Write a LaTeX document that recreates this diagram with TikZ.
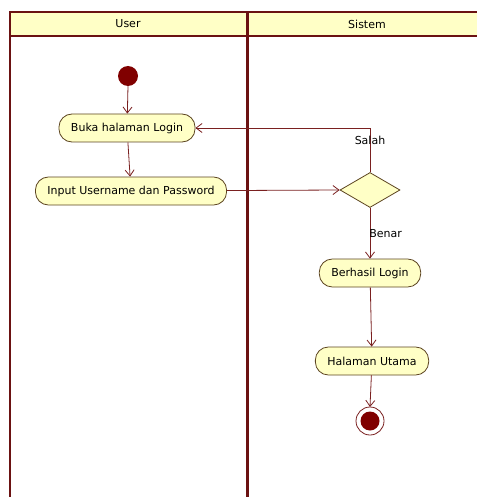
\documentclass[tikz,border=0pt]{standalone}
\usepackage{fontspec}
\setmainfont{DejaVu Sans}
\usetikzlibrary{arrows.meta,shapes.geometric}
\definecolor{lane}{HTML}{6B1212}
\definecolor{flow}{HTML}{7A2020}
\definecolor{pale}{HTML}{FFFFC6}
\definecolor{rim}{HTML}{5C4420}
\definecolor{dot}{HTML}{800000}
\tikzset{
    act/.style={
        draw=rim, fill=pale, rounded corners=13pt, line width=0.8pt,
        minimum height=28pt, inner xsep=12pt, font=\fontsize{11}{13}\selectfont
    },
    choice/.style={
        draw=rim, fill=pale, diamond, aspect=1.7, line width=0.8pt,
        minimum width=60pt, minimum height=35pt, inner sep=0pt
    },
    flowline/.style={
        draw=flow, line width=0.8pt,
        -{Straight Barb[length=6pt,width=9pt,line width=0.8pt]}
    },
    guard/.style={font=\fontsize{11}{13}\selectfont, inner sep=1pt}
}
\newcommand{\lanehead}[3] {
	\node[font=\fontsize{11}{13}\selectfont] (#1) at (#2,24) {#3};
}
\begin{document}
\begin{tikzpicture}[x=1pt,y=-1pt]
		\useasboundingbox (0,0) rectangle (476,497);

		% swimlanes
		\fill[pale] (10,12) rectangle (480,36);
		\draw[lane, line width=1.6pt] (480,12) -- (10,12) -- (10,500);
		\draw[lane, line width=1.6pt] (10,36) -- (480,36);
		\draw[lane, line width=3pt] (247,12) -- (247,500);
		\lanehead{userlane}{128}{User}
		\lanehead{sistemlane}{367}{Sistem}

		% User
		\fill[dot] (128,76) circle [radius=10pt];
		\coordinate (start) at (128,86);
		\node[act] (buka) at (127,128) {Buka halaman Login};
		\node[act] (input) at (131,191) {Input Username dan Password};

		% Sistem
		\node[choice] (cek) at (370,190) {};
		\node[act] (berhasil) at (370,273) {Berhasil Login};
		\node[act] (utama) at (372,361) {Halaman Utama};
		\draw[flow, line width=0.8pt, fill=white] (370,421) circle [radius=14pt];
		\fill[dot] (370,421) circle [radius=9.5pt];
		\coordinate (stop) at (370,407);

		% flows
		\draw[flowline] (start) -- (buka);
		\draw[flowline] (buka) -- (input);
		\draw[flowline] (input) -- (cek.west);
		\draw[flowline] (cek.north) |- (buka.east)
			node[guard, pos=0.36] (salah) {Salah};
		\draw[flowline] (cek.south) -- (berhasil.north)
			node[guard, pos=0.5, anchor=west, xshift=-2pt] (benar) {Benar};
		\draw[flowline] (berhasil) -- (utama);
		\draw[flowline] (utama) -- (stop);

	\end{tikzpicture}
\end{document}
